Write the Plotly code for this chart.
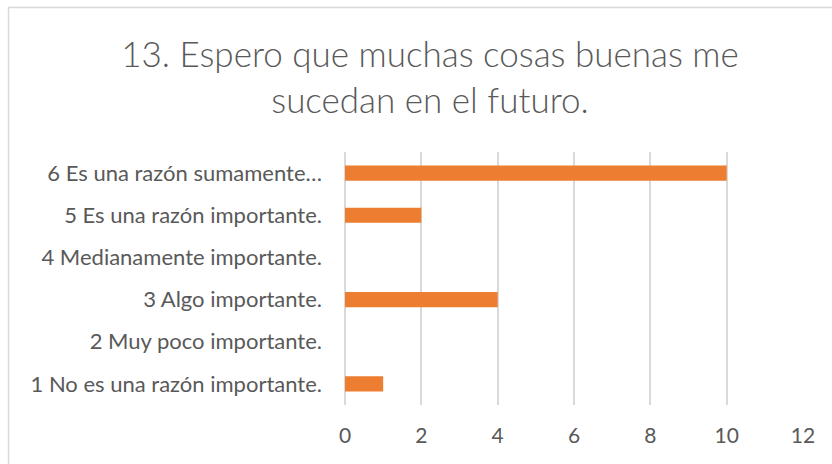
import plotly.graph_objects as go

# datos de la pregunta 13
categorias = [
    "1 No es una razón importante.",
    "2 Muy poco importante.",
    "3 Algo importante.",
    "4 Medianamente importante.",
    "5 Es una razón importante.",
    "6 Es una razón sumamente…",
]
valores = [1, 0, 4, 0, 2, 10]
ticks_x = [0, 2, 4, 6, 8, 10, 12]

titulo = "13. Espero que muchas cosas buenas me<br>sucedan en el futuro."

gris_texto = "#595959"
gris_linea = "#d9d9d9"
naranja = "#ED7D31"

fig = go.Figure()

fig.add_trace(go.Bar(
    x=valores,
    y=categorias,
    orientation="h",
    marker=dict(color=naranja, line=dict(width=0)),
    width=0.36,
))

fig.update_layout(
    width=832,
    height=464,
    margin=dict(l=345, r=29, t=152, b=59),
    plot_bgcolor="white",
    paper_bgcolor="white",
    showlegend=False,
    font=dict(family="Lato", color=gris_texto, size=21),
    title=dict(
        text=titulo,
        x=430 / 832,
        xref="container",
        xanchor="center",
        y=1 - 67 / 464,
        yref="container",
        yanchor="middle",
        font=dict(family="Lato", size=35, color=gris_texto, weight=300),
    ),
    xaxis=dict(
        range=[0, 12],
        tickvals=ticks_x,
        showgrid=True,
        gridcolor=gris_linea,
        gridwidth=1.5,
        zeroline=True,
        zerolinecolor=gris_linea,
        zerolinewidth=1.5,
        showline=False,
        ticks="",
        ticklabelstandoff=16,
        tickfont=dict(size=21, color=gris_texto),
        fixedrange=True,
    ),
    yaxis=dict(
        categoryorder="array",
        categoryarray=categorias,
        showgrid=False,
        zeroline=False,
        showline=False,
        ticks="",
        ticklabelstandoff=22,
        tickfont=dict(size=22, color=gris_texto),
        automargin=False,
        fixedrange=True,
    ),
    bargap=0.64,
)

# marco del grafico (solo se ve arriba y a la izquierda)
fig.add_shape(
    type="rect",
    xref="paper", yref="paper",
    x0=(8.5 - 345) / 458, x1=1.3,
    y0=-0.5, y1=(405 - 7.5) / 253,
    line=dict(color="#d9d9d9", width=1.5),
    fillcolor="rgba(0,0,0,0)",
    layer="below",
)

# quitar el margen por defecto del body
fig.write_html(
    "out.html",
    config={"displayModeBar": False},
    post_script="document.body.style.margin='0';",
)
